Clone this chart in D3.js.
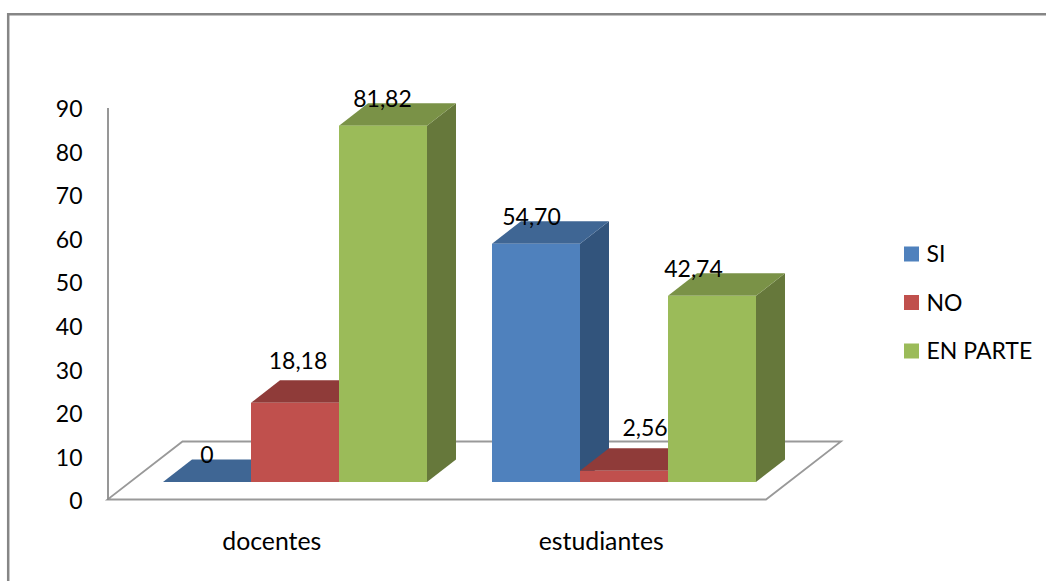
<!DOCTYPE html>
<html>
<head>
<meta charset="utf-8">
<script src="https://cdn.jsdelivr.net/npm/d3@7"></script>
<style>
  html, body { margin: 0; padding: 0; background: #fff; }
  svg { display: block; }
  text { font-family: Lato, "Noto Sans", sans-serif; fill: #000; }
</style>
</head>
<body>
<svg id="chart" width="1046" height="581"></svg>
<script>
// Survey results per group, in percent
const categories = ["docentes", "estudiantes"];
const seriesNames = ["SI", "NO", "EN PARTE"];
const siValues = [0, 54.70];
const noValues = [18.18, 2.56];
const enParteValues = [81.82, 42.74];
const valueLabels = [["0", "54,70"], ["18,18", "2,56"], ["81,82", "42,74"]];
const yTicks = [0, 10, 20, 30, 40, 50, 60, 70, 80, 90];

const seriesValues = [siValues, noValues, enParteValues];
const frontColors = ["#4F81BD", "#C0504D", "#9BBB59"];
const topColors = ["#3F6694", "#8F3B39", "#7A9247"];
const sideColors = ["#32547C", "#7A3230", "#66783B"];

// Hand-placed data label shifts, per series and category, from each bar's top centre
const labelShift = [
  [[0, -19], [-4.5, -18.5]],
  [[3, -33.5], [21, -35]],
  [[-0.5, -19], [-18.5, -18.5]]
];

const svg = d3.select("#chart");
const numberSize = 23;
const categorySize = 24.8;
const legendSize = 23;

// Oblique projection: depth shifts the bars' faces right and up
const depth = { x: 29, y: -22.5 };
const floorDepth = { x: 75, y: -58 };
const floorFront = { left: 107.5, right: 766, y: 499.5 };

// The value axis sits on the front edge of the floor; bars stand 17px behind it
const y = d3.scaleLinear().domain([0, 90]).range([floorFront.y, 107.5]);
const barOffsetY = -17.5;

const x0 = d3.scaleBand().domain(categories).range([107, 766]);
const barWidth = 88;
const groupStart = { docentes: 163, estudiantes: 492 };

const grey = "#8C8C8C";

// Outer frame, open at the bottom where the chart area is cut off
svg.append("path")
  .attr("d", "M1046,14.2 H8.2 V581")
  .attr("fill", "none")
  .attr("stroke", "#868686")
  .attr("stroke-width", 2.5);

// Floor of the 3D plot
svg.append("path")
  .attr("d", d3.line()([
    [floorFront.left, floorFront.y],
    [floorFront.right, floorFront.y],
    [floorFront.right + floorDepth.x, floorFront.y + floorDepth.y],
    [floorFront.left + floorDepth.x, floorFront.y + floorDepth.y]
  ]) + "Z")
  .attr("fill", "#fff")
  .attr("stroke", "#999999")
  .attr("stroke-width", 1.8);

// Value axis line and tick labels
const yAxis = d3.axisLeft(y).tickValues(yTicks).tickSize(0).tickPadding(25);
const axisG = svg.append("g")
  .attr("transform", `translate(${floorFront.left},0)`)
  .call(yAxis);
axisG.select(".domain")
  .attr("stroke", grey)
  .attr("stroke-width", 1.8);
axisG.selectAll("text")
  .style("font-size", numberSize + "px")
  .attr("dy", "0.4em");

// Bars drawn series by series so nearer faces overlap the earlier ones
const bars = [];
categories.forEach((cat, c) => {
  seriesNames.forEach((name, s) => {
    bars.push({ cat, c, s, value: seriesValues[s][c], label: valueLabels[s][c] });
  });
});

const barsG = svg.append("g");
bars.forEach(d => {
  const left = groupStart[d.cat] + d.s * barWidth;
  const right = left + barWidth;
  const base = y(0) + barOffsetY;
  const top = y(d.value) + barOffsetY;
  const g = barsG.append("g");
  // Side face
  g.append("path")
    .attr("d", d3.line()([
      [right, base], [right + depth.x, base + depth.y],
      [right + depth.x, top + depth.y], [right, top]
    ]) + "Z")
    .attr("fill", sideColors[d.s]);
  // Top face
  g.append("path")
    .attr("d", d3.line()([
      [left, top], [left + depth.x, top + depth.y],
      [right + depth.x, top + depth.y], [right, top]
    ]) + "Z")
    .attr("fill", topColors[d.s]);
  // Front face
  g.append("rect")
    .attr("x", left)
    .attr("y", top)
    .attr("width", barWidth)
    .attr("height", base - top)
    .attr("fill", frontColors[d.s]);
  d.cx = left + barWidth / 2;
  d.top = top;
});

// Value labels go above everything else
svg.append("g").selectAll("text")
  .data(bars)
  .join("text")
  .attr("x", d => d.cx + labelShift[d.s][d.c][0])
  .attr("y", d => d.top + labelShift[d.s][d.c][1])
  .attr("text-anchor", "middle")
  .style("font-size", numberSize + "px")
  .text(d => d.label);

// Category labels
svg.append("g").selectAll("text")
  .data(categories)
  .join("text")
  .attr("x", d => x0(d) + x0.bandwidth() / 2)
  .attr("y", 549.5)
  .attr("text-anchor", "middle")
  .style("font-size", categorySize + "px")
  .text(d => d);

// Legend
const legendY = d3.scalePoint().domain(seriesNames).range([254, 351]);
const legend = svg.append("g").selectAll("g")
  .data(seriesNames)
  .join("g")
  .attr("transform", d => `translate(904,${legendY(d)})`);
legend.append("rect")
  .attr("x", 0).attr("y", -7.5)
  .attr("width", 15).attr("height", 15)
  .attr("fill", (d, i) => frontColors[i]);
legend.append("text")
  .attr("x", 22.5)
  .attr("dy", "0.36em")
  .style("font-size", legendSize + "px")
  .text(d => d);
</script>
</body>
</html>
